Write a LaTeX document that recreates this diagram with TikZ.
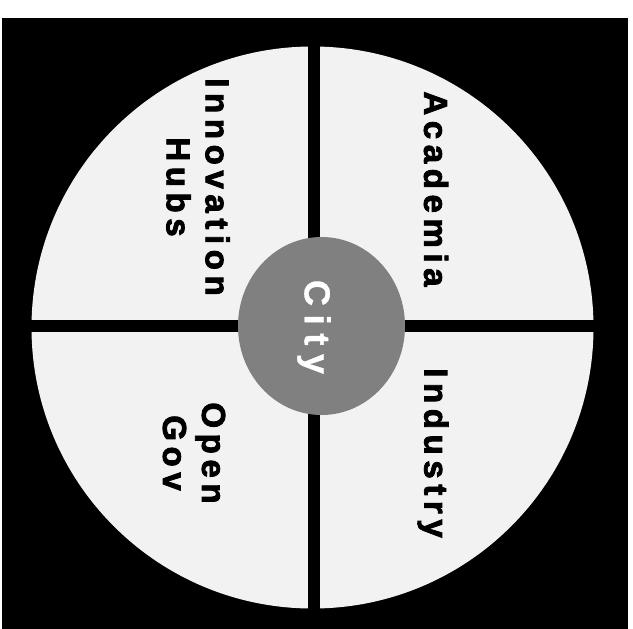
\documentclass[tikz,border=0pt]{standalone}
\usepackage{fontspec}
\setmainfont{Liberation Sans}
\newfontfamily\labelfont[FakeBold=2.5, LetterSpace=17]{Liberation Sans Bold}
\newfontfamily\cityfont[FakeBold=1, LetterSpace=24]{Liberation Sans Bold}
\usetikzlibrary{shapes.geometric}
\definecolor{quadfill}{gray}{0.95}
\definecolor{cityfill}{gray}{0.5}
\tikzset{
  label text/.style={rotate=-90, align=center, text=black,
    font=\labelfont\fontsize{33bp}{39bp}\selectfont},
  divider/.style={line width=12.5bp, black},
}
\begin{document}
\begin{tikzpicture}[x=1bp,y=-1bp]
\useasboundingbox (0,0) rectangle (633,629);
\fill[black] (2,18) rectangle (628,629);
\node[circle, fill=quadfill, minimum size=562bp, inner sep=0pt] (disc) at (312.5,327.5) {};
\draw[divider] ([xshift=1.5bp]disc.north) -- ([xshift=1.5bp]disc.south);
\draw[divider] ([yshift=1.5bp]disc.west) -- ([yshift=1.5bp]disc.east);
\node[ellipse, fill=cityfill, minimum width=167bp, minimum height=178bp, inner sep=0pt] (city) at (321.5,326) {};
\node[rotate=-90, text=white, font=\cityfont\fontsize{36bp}{40bp}\selectfont] (citytext) at (314,327) {City};
\node[label text] (academia) at (436,189) {Academia};
\node[label text] (innov) at (198,187) {Innovation\\Hubs};
\node[label text] (opengov) at (194,453) {Open\\Gov};
\node[label text] (industry) at (433,453) {Industry};
\end{tikzpicture}
\end{document}
